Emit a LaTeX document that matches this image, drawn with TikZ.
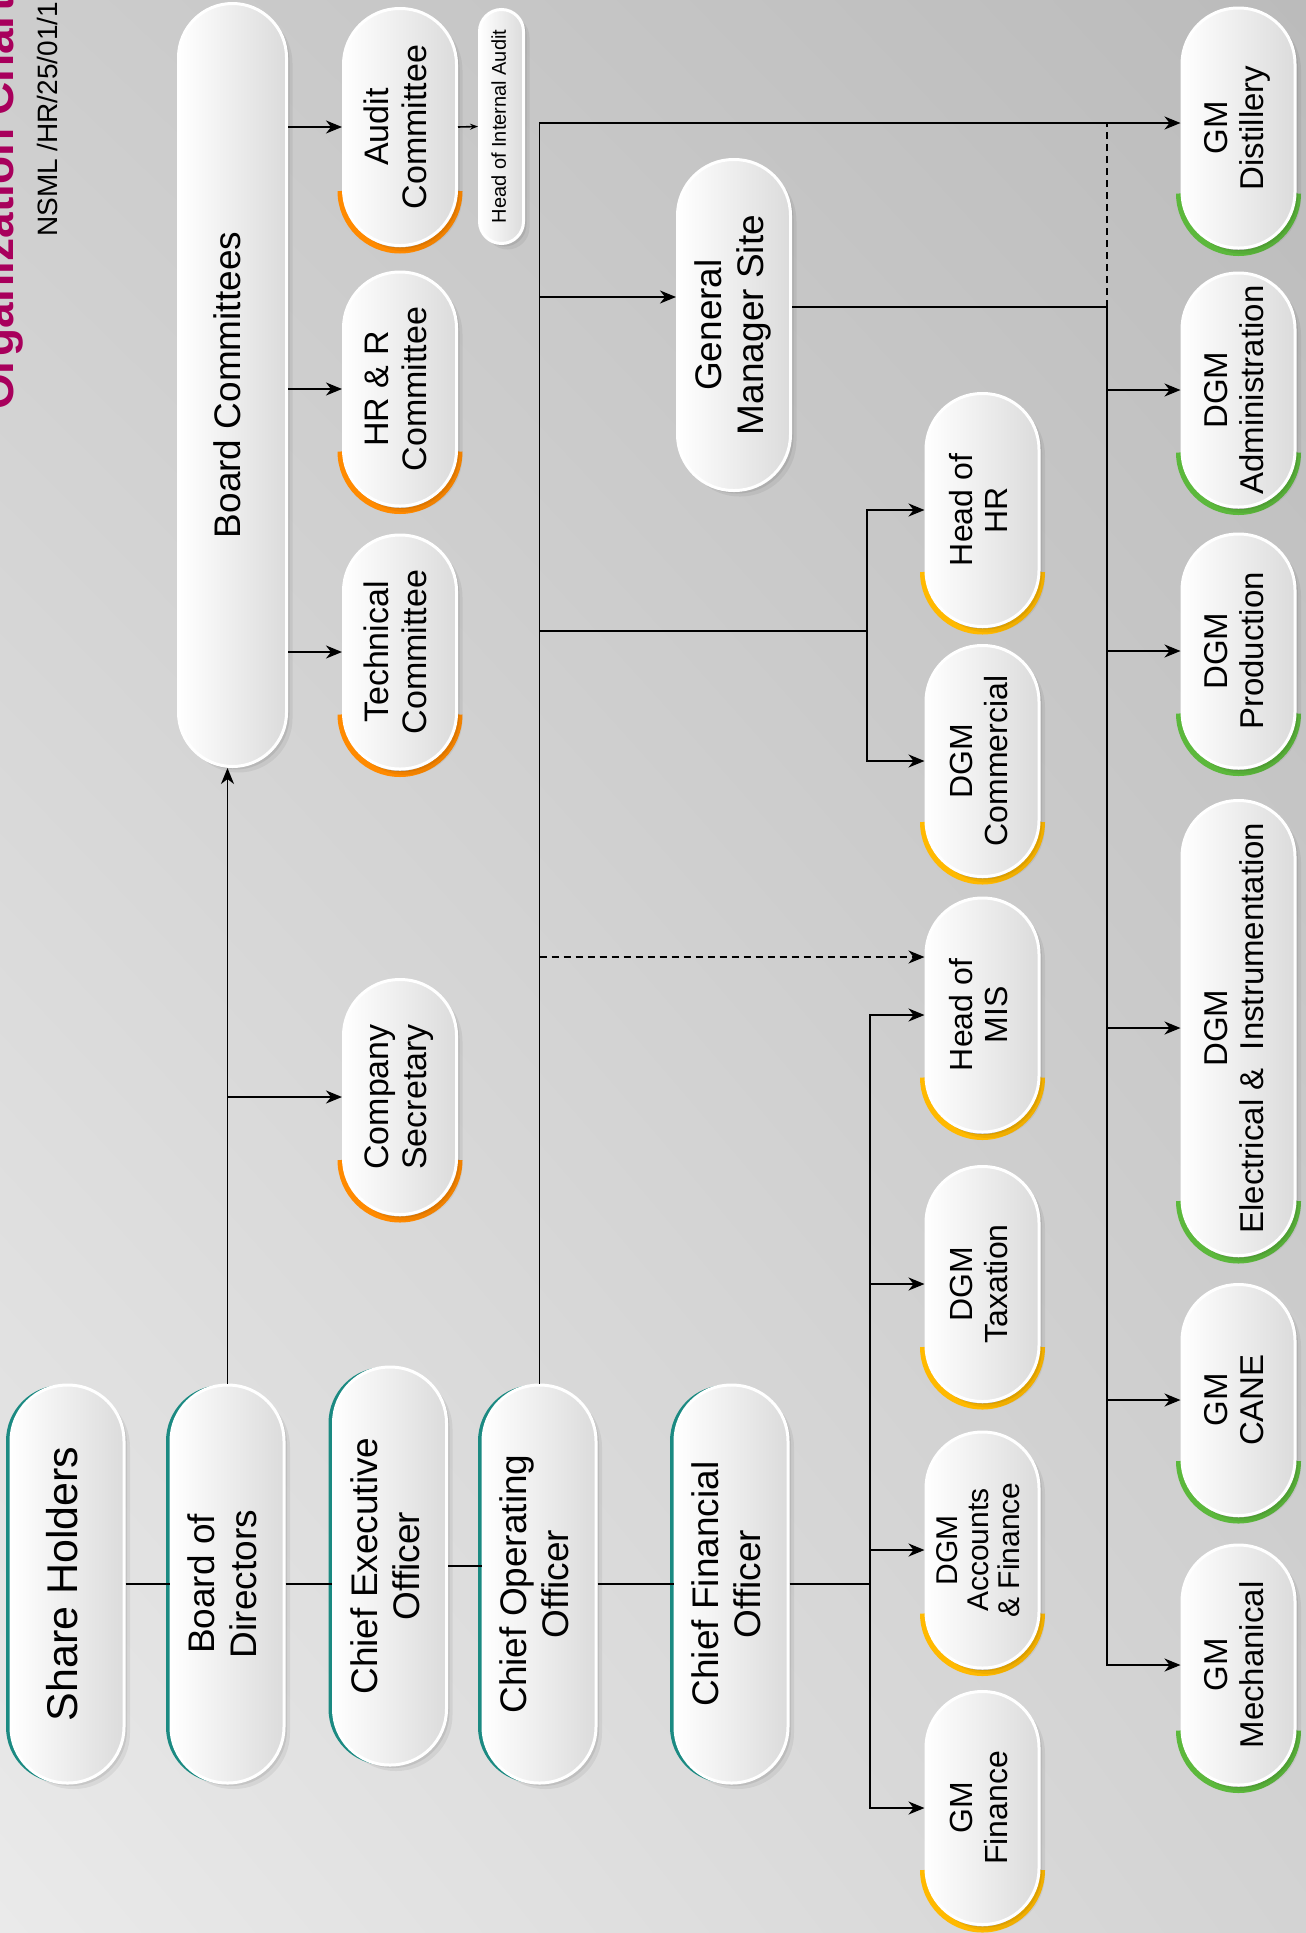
\documentclass[tikz,border=0pt]{standalone}
\usepackage{fontspec}
\setmainfont{Liberation Sans}
\usepackage{graphicx}
\usetikzlibrary{arrows.meta,shadows,shadings}

\pgfdeclarelayer{back}
\pgfdeclarelayer{accent}
\pgfsetlayers{back,accent,main}

\definecolor{titlepink}{HTML}{A8005C}
\definecolor{leadteal}{HTML}{1B8A82}
\definecolor{orng}{HTML}{FF8A00}
\definecolor{ylw}{HTML}{FFB900}
\definecolor{grn}{HTML}{5CB83C}
\definecolor{bgUL}{HTML}{CDCDCD}
\definecolor{bgUR}{HTML}{BBBBBB}
\definecolor{bgLL}{HTML}{EAEAEA}
\definecolor{bgLR}{HTML}{D3D3D3}

\newcommand{\vlabel}[1]{\rotatebox{90}{\begin{tabular}{@{}c@{}}#1\end{tabular}}}

\tikzset{
  pill/.style={draw=white, line width=3pt, rounded corners=56pt, left color=white, right color=black!14,
    inner sep=0pt, minimum width=113pt,
    general shadow={fill=black, opacity=0.06, shadow xshift=6pt, shadow yshift=-6pt},
    general shadow={fill=black, opacity=0.08, shadow xshift=3pt, shadow yshift=-3pt}},
  lead/.style={pill, general shadow={fill=leadteal, shadow xshift=-5pt}, minimum height=398pt,
    font=\fontsize{37}{42}\selectfont},
  member/.style={pill, font=\fontsize{34}{38}\selectfont},
  dept/.style={pill, font=\fontsize{32}{35}\selectfont},
  plant/.style={pill, font=\fontsize{33}{36}\selectfont},
  conn/.style={line width=1.6pt},
  arr/.style={conn, -{Stealth[length=16pt,width=13pt,inset=5pt]}},
  accent/.style={draw=#1, line width=6pt},
}

\begin{document}
\begin{tikzpicture}[x=1pt, y=-1pt]
\useasboundingbox (0,0) rectangle (1306,1933);
\begin{pgfonlayer}{back}
\shade[upper left=bgUL, upper right=bgUR, lower left=bgLL, lower right=bgLR] (0,0) rectangle (1306,1933);
\end{pgfonlayer}

% heading
\node[rotate=90, anchor=base west, inner sep=0pt, text=titlepink, font=\bfseries\fontsize{46}{50}\selectfont] (title) at (13,410) {Organization Chart};
\node[rotate=90, anchor=base west, inner sep=0pt, font=\fontsize{28}{30}\selectfont] (docref) at (57,237) {NSML /HR/25/01/1};

% top management
\node[lead, font=\fontsize{43}{48}\selectfont] (sh) at (67.5,1584) {\vlabel{Share Holders}};
\node[lead] (bod) at (227.5,1584) {\vlabel{Board of\\Directors}};
\node[lead] (ceo) at (390,1566) {\vlabel{Chief Executive\\Officer}};
\node[lead] (coo) at (539.5,1584) {\vlabel{Chief Operating\\Officer}};
\node[lead] (cfo) at (731.5,1584) {\vlabel{Chief Financial\\Officer}};

% board side
\node[pill, minimum width=108pt, rounded corners=54pt, minimum height=763pt, font=\fontsize{37}{42}\selectfont] (bc) at (232.5,385) {\vlabel{Board Committees}};
\node[member, minimum height=237pt] (ac) at (400,127) {\vlabel{Audit\\Committee}};
\node[member, minimum height=234pt] (hrc) at (400,389) {\vlabel{HR \& R\\Committee}};
\node[member, minimum height=234pt] (tc) at (400,652) {\vlabel{Technical\\Committee}};
\node[member, minimum height=235pt] (cs) at (400,1097) {\vlabel{Company\\Secretary}};
\node[pill, minimum width=44pt, rounded corners=22pt, minimum height=234pt, font=\fontsize{20}{22}\selectfont] (hia) at (501.5,126.5) {\vlabel{Head of Internal Audit}};

% site
\node[pill, minimum height=331pt, font=\fontsize{37}{42}\selectfont] (gms) at (734,325) {\vlabel{General\\Manager Site}};

% hr, commercial and finance
\node[dept, minimum height=233pt] (hhr) at (982.5,510) {\vlabel{Head of\\HR}};
\node[dept, minimum height=231pt] (dgmc) at (982.5,761) {\vlabel{DGM\\Commercial}};
\node[dept, minimum height=234pt] (mis) at (982.5,1015) {\vlabel{Head of\\MIS}};
\node[dept, minimum height=235pt] (tax) at (982.5,1284) {\vlabel{DGM\\Taxation}};
\node[dept, minimum height=236pt, font=\fontsize{30}{31}\selectfont] (daf) at (982.5,1550) {\vlabel{DGM\\Accounts\\\& Finance}};
\node[dept, minimum height=233pt] (gmf) at (982.5,1808) {\vlabel{GM\\Finance}};

% plant
\node[plant, minimum height=240pt] (gmd) at (1238.5,128) {\vlabel{GM\\Distillery}};
\node[plant, minimum height=234pt] (dadm) at (1238.5,390) {\vlabel{DGM\\Administration}};
\node[plant, minimum height=234pt] (dprod) at (1238.5,651) {\vlabel{DGM\\Production}};
\node[plant, minimum height=455pt] (dei) at (1238.5,1028) {\vlabel{DGM\\Electrical \&\ \ Instrumentation}};
\node[plant, minimum height=231pt] (gmc) at (1238.5,1400) {\vlabel{GM\\CANE}};
\node[plant, minimum height=240pt] (gmm) at (1238.5,1665) {\vlabel{GM\\Mechanical}};

% coloured ends
\begin{pgfonlayer}{accent}
\foreach \n/\c in {ac/orng, hrc/orng, tc/orng, cs/orng, hhr/ylw, dgmc/ylw, mis/ylw, tax/ylw, daf/ylw, gmf/ylw, gmd/grn, dadm/grn, dprod/grn, dei/grn, gmc/grn, gmm/grn}
  \draw[accent=\c] ([xshift=-59.5pt, yshift=56pt]\n.south) arc[start angle=180, end angle=360, radius=59.5pt];
\end{pgfonlayer}

% connectors
\foreach \from/\to in {sh/bod, bod/ceo, ceo/coo, coo/cfo}
  \draw[conn] (\from.east) -- (\from.east -| \to.west);
\draw[arr] (bod.north) -- (bod.north |- bc.south);
\draw[arr] (bod.north |- cs.west) -- (cs.west);
\foreach \n in {ac, hrc, tc}
  \draw[arr] (bc.east |- \n.west) -- (\n.west);
\draw[conn, -{Stealth[length=8pt,width=6pt]}] (ac.east) -- (hia.west);

\coordinate (topBus) at ([yshift=5pt]gmd.west);
\coordinate (gmsIn) at ([yshift=28pt]gms.west);
\coordinate (hrBus) at (867,631);
\coordinate (misDot) at ([yshift=58pt]mis.west);
\coordinate (cfoBus) at (870,1584);
\coordinate (siteBus) at (1107,307);

\draw[arr] (coo.north) |- (topBus);
\draw[arr] (coo.north |- gmsIn) -- (gmsIn);
\draw[conn] (coo.north |- hrBus) -- (hrBus);
\draw[arr] (hrBus) |- (hhr.west);
\draw[arr] (hrBus) |- (dgmc.west);
\draw[arr, dash pattern=on 7pt off 5pt] (coo.north |- misDot) -- (misDot);

\draw[conn] (cfo.east) -- (cfoBus);
\foreach \n in {mis, tax, daf, gmf}
  \draw[arr] (cfoBus) |- (\n.west);

\draw[conn] (gms.east |- siteBus) -- (siteBus);
\draw[conn, dash pattern=on 7pt off 5pt] (siteBus) -- (siteBus |- topBus);
\foreach \n in {dadm, dprod, dei, gmc, gmm}
  \draw[arr] (siteBus) |- (\n.west);
\end{tikzpicture}
\end{document}
